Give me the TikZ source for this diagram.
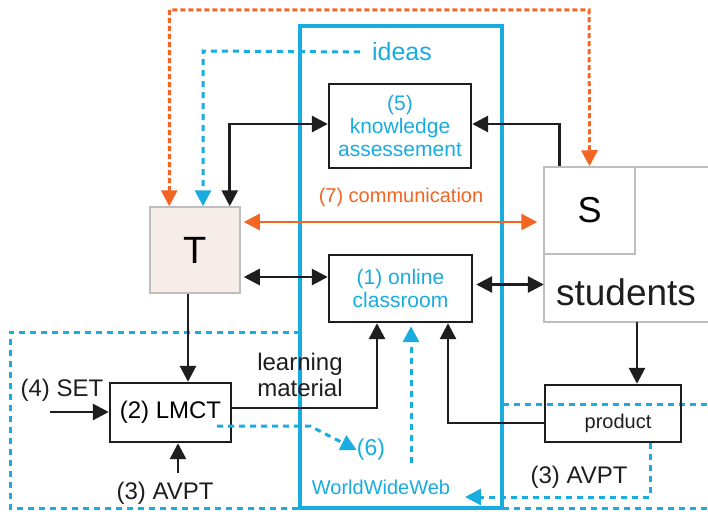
\documentclass[tikz,border=0pt]{standalone}
\usepackage{fontspec}
\setmainfont{Liberation Sans}
\usetikzlibrary{arrows.meta,calc}
\definecolor{cyn}{RGB}{24,172,224}
\definecolor{org}{RGB}{242,101,34}
\definecolor{tfill}{RGB}{246,236,232}
\definecolor{dk}{RGB}{30,30,30}
\definecolor{gbox}{RGB}{190,190,190}
\tikzset{
  box/.style={draw=dk,line width=2.4pt,inner sep=0pt,align=center},
  gray box/.style={draw=gbox,line width=1.5pt,inner sep=0pt},
  blk/.style={draw=dk,line width=2.8pt,arrows={-Triangle[length=16pt,width=16pt]}},
  blkboth/.style={draw=dk,line width=2.8pt,arrows={Triangle[length=16pt,width=16pt]-Triangle[length=16pt,width=16pt]}},
  orng/.style={draw=org,line width=2.8pt,arrows={Triangle[length=16pt,width=16pt]-Triangle[length=16pt,width=16pt]}},
  odash/.style={draw=org,line width=3pt,dash pattern=on 5pt off 3pt},
  cdash/.style={draw=cyn,line width=3pt,dash pattern=on 6pt off 5pt},
  ctip/.style={arrows={-Triangle[length=16pt,width=16pt]}},
  lbl/.style={inner sep=0pt,text=dk},
  clbl/.style={inner sep=0pt,text=cyn},
}
\begin{document}
\begin{tikzpicture}[x=1pt,y=-1pt]
\useasboundingbox (0,0) rectangle (708,511);
\fill[white] (0,0) rectangle (708,511);
% big WWW frame
\node[draw=cyn,line width=3.2pt,minimum width=202pt,minimum height=482pt,inner sep=0pt] (www) at (401,267) {};
% lower-left dashed region and right dashed lines
\draw[cdash] (300,332) -- (10,332) -- (10,508) -- (300,508);
\draw[cdash] (503,508) -- (708,508);
\draw[cdash] (503,404) -- (708,404);
% boxes
\node[box,minimum width=142pt,minimum height=84pt,text=cyn,font=\fontsize{21}{23}\selectfont] (ka) at (400,126) {(5)\\knowledge\\assessement};
\node[box,minimum width=143pt,minimum height=67pt,text=cyn,font=\fontsize{21}{23}\selectfont] (oc) at (400.5,288.5) {(1) online\\classroom};
\node[gray box,fill=tfill,minimum width=90pt,minimum height=86pt,font=\fontsize{38}{40}\selectfont] (T) at (195,250) {T};
\node[minimum width=164pt,minimum height=155pt,inner sep=0pt] (stu) at (626,244.5) {};
\draw[gbox,line width=1.5pt] (stu.north east) -- (stu.north west) -- (stu.south west) -- (stu.south east);
\node[gray box,minimum width=91pt,minimum height=87pt,font=\fontsize{36}{38}\selectfont] (S) at (589.5,210.5) {S};
\node[lbl,font=\fontsize{37}{39}\selectfont] (studtxt) at (626,292) {students};
\node[box,minimum width=121pt,minimum height=59pt,font=\fontsize{24}{26}\selectfont] (lmct) at (170.5,412.5) {(2) LMCT};
\node[box,minimum width=136pt,minimum height=57pt] (prod) at (613,413.5) {};
\node[lbl,font=\fontsize{20}{22}\selectfont] (prodtxt) at (618,423) {product};
% labels
\node[clbl,font=\fontsize{25}{27}\selectfont] (ideas) at (402,52) {ideas};
\node[inner sep=0pt,text=org,font=\fontsize{20}{22}\selectfont] (comm) at (401,197) {(7) communication};
\node[lbl,align=left,font=\fontsize{24}{26}\selectfont] (lm) at (300,375) {learning\\material};
\node[lbl,font=\fontsize{24}{26}\selectfont] (set) at (62,390) {(4) SET};
\node[lbl,font=\fontsize{24}{26}\selectfont] (av1) at (165,493) {(3) AVPT};
\node[lbl,font=\fontsize{24}{26}\selectfont] (av2) at (579,477) {(3) AVPT};
\node[clbl,font=\fontsize{23}{25}\selectfont] (six) at (371,450) {(6)};
\node[clbl,font=\fontsize{20}{22}\selectfont] (wwwl) at (381,487) {WorldWideWeb};
% coordinates for free ends
\coordinate (otop) at (589,10);
\coordinate (itop) at (203,51);
\coordinate (setstart) at (50,412);
\coordinate (avstart) at (178,473);
\coordinate (webstart) at (411,463);
\coordinate (lmdash) at (217,426);
\coordinate (lmbend) at (310,426);
\coordinate (webend) at (465,497);
\coordinate (pbend) at (650,497);
% orange dashed feedback
\draw[odash,arrows={Triangle[length=16pt,width=16pt]-Triangle[length=16pt,width=16pt]}] ([xshift=20pt]T.north west) |- (otop) -- (S.north);
% ideas dashed
\draw[cdash,ctip] ([xshift=-12pt]ideas.west) -- (itop) -- (itop |- T.north);
% black arrows
\draw[blkboth] ([xshift=-11pt]T.north east) |- ([yshift=2pt]ka.west);
\draw[blk] ([xshift=16pt]S.north west) |- ([yshift=2pt]ka.east);
\draw[orng] ([yshift=28pt,xshift=3pt]T.east) -- ([yshift=28pt,xshift=-6pt]T.east -| S.west);
\draw[blkboth] ([yshift=-27pt,xshift=3pt]T.east) -- ([yshift=-27pt]T.east -| oc.west);
\draw[blkboth] ([yshift=4pt,xshift=3pt]oc.east) -- ([yshift=4pt]oc.east -| stu.west);
\draw[blk] ([xshift=-7pt]T.south) -- ([xshift=-7pt]T.south |- lmct.north);
\draw[blk] (setstart) -- (setstart -| lmct.west);
\draw[blk] (avstart) -- (avstart |- lmct.south);
\draw[blk] ([yshift=4.5pt]lmct.east) -| ([xshift=-23.5pt]oc.south);
\draw[blk] ([yshift=-9.5pt]prod.west) -| ([xshift=47.5pt]oc.south);
\draw[blk] ([xshift=24pt]prod.north |- stu.south) -- ([xshift=24pt]prod.north);
% cyan dashed arrows
\draw[cdash,ctip] (webstart) -- ([yshift=-3pt]webstart |- oc.south);
\draw[cdash,ctip] (lmdash) -- (lmbend) -- (six.west);
\draw[cdash,ctip] ([xshift=37pt]prod.south) -- (pbend) -- (webend);
\end{tikzpicture}
\end{document}
